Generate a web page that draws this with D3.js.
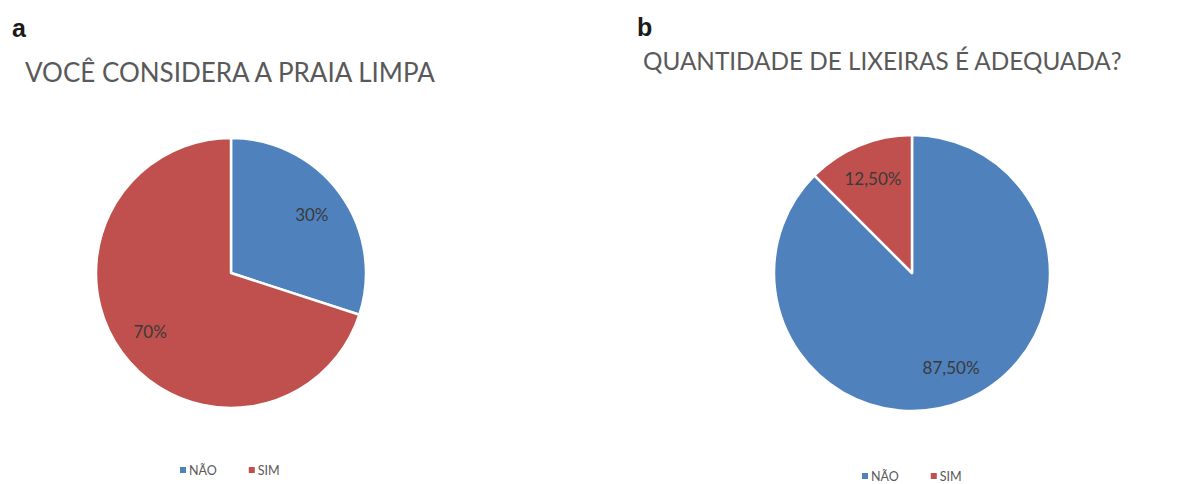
<!DOCTYPE html>
<html>
<head>
<meta charset="utf-8">
<script src="https://cdn.jsdelivr.net/npm/d3@7"></script>
<style>
  html, body { margin: 0; padding: 0; background: #fff; }
  svg { display: block; }
</style>
</head>
<body>
<svg id="chart" width="1180" height="484"></svg>
<script>
// Survey answers, shares in percent
const categories = ["NÃO", "SIM"];
const praiaLimpa = [30, 70];            // "VOCÊ CONSIDERA A PRAIA LIMPA"
const lixeirasAdequadas = [87.5, 12.5]; // "QUANTIDADE DE LIXEIRAS É ADEQUADA?"
const valueLabelsA = ["30%", "70%"];
const valueLabelsB = ["87,50%", "12,50%"];
const panelLetters = ["a", "b"];
const panelTitles = ["VOCÊ CONSIDERA A PRAIA LIMPA", "QUANTIDADE DE LIXEIRAS É ADEQUADA?"];

const colors = d3.scaleOrdinal().domain(categories).range(["#4F81BD", "#C0504D"]);
const svg = d3.select("#chart");
const font = "Lato, 'Open Sans', sans-serif";

const panels = [
  { values: praiaLimpa, labels: valueLabelsA, cx: 231, cy: 273, r: 135,
    letterX: 12, letterY: 37, titleX: 25, titleY: 82, titleSize: 26,
    legendX: 180, legendY: 470 },
  { values: lixeirasAdequadas, labels: valueLabelsB, cx: 912, cy: 273, r: 138,
    letterX: 637, letterY: 36, titleX: 643, titleY: 70, titleSize: 24.3,
    legendX: 862, legendY: 476 }
];

const pie = d3.pie().sort(null).value(d => d.value);

panels.forEach((p, i) => {
  const g = svg.append("g");

  // panel letter and title
  g.append("text")
    .attr("x", p.letterX).attr("y", p.letterY)
    .attr("font-family", "Arial, 'Liberation Sans', sans-serif")
    .attr("font-weight", "bold").attr("font-size", 25)
    .attr("fill", "#1a1a1a")
    .text(panelLetters[i]);

  g.append("text")
    .attr("x", p.titleX).attr("y", p.titleY)
    .attr("font-family", font).attr("font-size", p.titleSize)
    .attr("fill", "#595959")
    .text(panelTitles[i]);

  // pie slices, drawn clockwise from 12 o'clock
  const data = categories.map((c, k) => ({ cat: c, value: p.values[k], label: p.labels[k] }));
  const arcs = pie(data);
  const arc = d3.arc().innerRadius(0).outerRadius(p.r);
  const labelArc = d3.arc().innerRadius(p.r * 0.74).outerRadius(p.r * 0.74);

  const pieG = g.append("g").attr("transform", `translate(${p.cx},${p.cy})`);
  pieG.selectAll("path")
    .data(arcs)
    .join("path")
    .attr("d", arc)
    .attr("fill", d => colors(d.data.cat))
    .attr("stroke", "#ffffff")
    .attr("stroke-width", 2.5)
    .attr("stroke-linejoin", "round");

  pieG.selectAll("text")
    .data(arcs)
    .join("text")
    .attr("transform", d => `translate(${labelArc.centroid(d)})`)
    .attr("text-anchor", "middle")
    .attr("dominant-baseline", "central")
    .attr("font-family", font).attr("font-size", 17)
    .attr("fill", "#3a3a3a")
    .text(d => d.data.label);

  // legend
  const leg = g.append("g").attr("transform", `translate(${p.legendX},${p.legendY})`);
  let x = 0;
  categories.forEach((c, k) => {
    leg.append("rect")
      .attr("x", x).attr("y", -3).attr("width", 6).attr("height", 6)
      .attr("fill", colors(c));
    const t = leg.append("text")
      .attr("x", x + 9).attr("y", 0)
      .attr("dominant-baseline", "central")
      .attr("font-family", font).attr("font-size", 12.5)
      .attr("fill", "#595959")
      .text(c);
    x += 9 + t.node().getComputedTextLength() + 32;
  });
});
</script>
</body>
</html>
